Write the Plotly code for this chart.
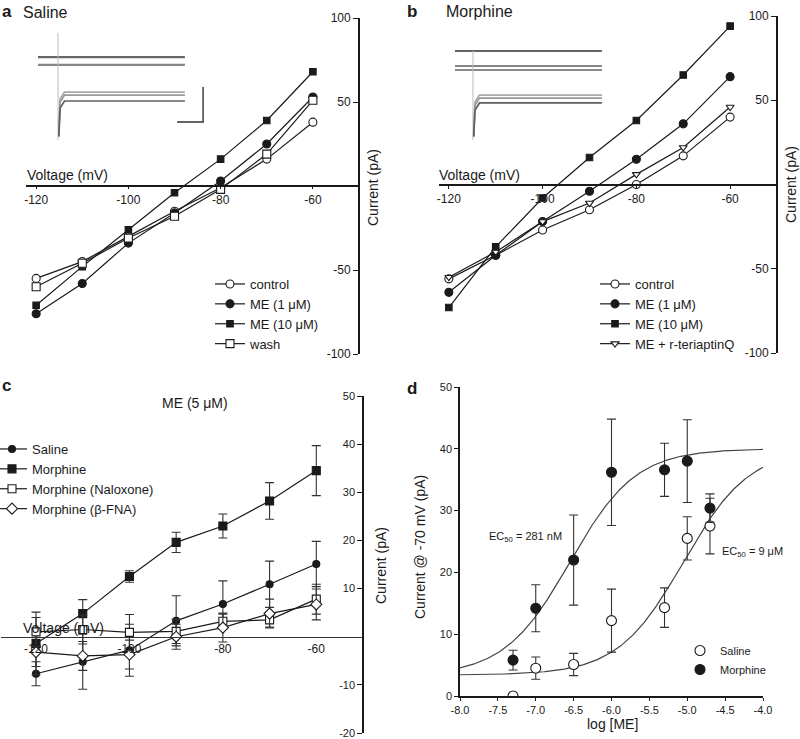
import numpy as np
import plotly.graph_objects as go

W, H = 800, 739
FONT = "Liberation Sans, Arial, sans-serif"
INK = "#1a1a1a"

# ---------------- data ----------------
voltage = [-120, -110, -100, -90, -80, -70, -60]
volt_ticks = [-120, -100, -80, -60]

# panel a (saline)
a_control = [-55, -45, -30, -15, -1, 16, 38]
a_me1 = [-76, -58, -34, -16, 3, 25, 53]
a_me10 = [-71, -48, -26, -4, 16, 39, 68]
a_wash = [-60, -46, -31, -18, -2, 19, 51]

# panel b (morphine)
b_control = [-56, -42, -27, -15, 0, 17, 40]
b_me1 = [-64, -42, -22, -4, 15, 36, 64]
b_me10 = [-73, -37, -8, 16, 38, 65, 94]
b_rter = [-55, -40, -22, -11, 6, 22, 46]

# panel c  ME (5 uM)
c_saline = [-7.7, -5.2, -2.8, 3.3, 6.8, 10.9, 15.1]
c_saline_err = [2.5, 5.7, 5.4, 5.2, 4.8, 4.8, 4.7]
c_morph = [-1.4, 4.8, 12.5, 19.6, 23.0, 28.2, 34.5]
c_morph_err = [6.5, 2.9, 1.2, 2.1, 2.5, 3.8, 5.2]
c_nalox = [1.0, 1.5, 0.9, 1.1, 3.2, 3.5, 7.8]
c_nalox_err = [3.0, 3.0, 3.7, 2.5, 1.5, 1.5, 3.1]
c_bfna = [-3.2, -4.0, -3.7, 0.0, 1.9, 4.8, 6.7]
c_bfna_err = [3.0, 3.0, 3.0, 2.6, 3.0, 3.0, 3.2]

# panel d  concentration-response
d_log_me = [-7.3, -7.0, -6.5, -6.0, -5.3, -5.0, -4.7]
d_morph = [5.8, 14.2, 22.0, 36.2, 36.6, 38.0, 30.4]
d_morph_err = [1.6, 3.8, 7.3, 8.6, 4.3, 6.7, 2.3]
d_saline = [0.0, 4.5, 5.1, 12.2, 14.3, 25.5, 27.5]
d_saline_err = [0.0, 1.8, 1.8, 5.1, 3.2, 3.5, 4.5]
# sigmoid fit parameters (bottom, top, logEC50, hill)
fit_morph = (3.3, 40.0, -6.55, 1.0)
fit_saline = (3.4, 40.0, -5.05, 1.0)
d_x_ticks = [-8.0, -7.5, -7.0, -6.5, -6.0, -5.5, -5.0, -4.5, -4.0]

# inset current traces (ms, pA)
inset_t_end = 565
inset_a_base = [37.1, 32.6]
inset_a_resp = [17.1, 15.4, 12.0]
inset_a_spike_t = 77
inset_b_start = 0
inset_b_base = [40.6, 32.0, 29.7]
inset_b_resp = [15.4, 13.7, 10.9]
inset_b_spike_t = 69
inset_spike = [-10.3, 50.9]
scale_ms, scale_pa = 100, 20


def px(x):
    return x / W


def py(y):
    return 1 - y / H


def lbl(v, fmt="{:g}"):
    return fmt.format(v).replace("\u2212", "-")


fig = go.Figure()


def add_series(x, y, name, symbol, size, filled, xa, ya, legend, err=None, mode="lines+markers", lcolor=INK):
    marker = dict(symbol=symbol, size=size, color=INK if filled else "white",
                  line=dict(color=INK, width=1.1))
    kw = {}
    if err is not None:
        kw["error_y"] = dict(type="data", array=err, color="#333", thickness=1.1, width=4.5)
    fig.add_trace(go.Scatter(x=x, y=y, name=name, mode=mode, marker=marker,
                             line=dict(color=lcolor, width=1.2), xaxis=xa, yaxis=ya,
                             legend=legend, **kw))


# panel a
add_series(voltage, a_control, "control", "circle", 8, False, "x", "y", "legend")
add_series(voltage, a_me1, "ME (1 μM)", "circle", 8, True, "x", "y", "legend")
add_series(voltage, a_me10, "ME (10 μM)", "square", 6.5, True, "x", "y", "legend")
add_series(voltage, a_wash, "wash", "square", 8, False, "x", "y", "legend")

# panel b
add_series(voltage, b_control, "control", "circle", 8, False, "x2", "y2", "legend2")
add_series(voltage, b_me1, "ME (1 μM)", "circle", 8, True, "x2", "y2", "legend2")
add_series(voltage, b_me10, "ME (10 μM)", "square", 6.5, True, "x2", "y2", "legend2")
add_series(voltage, b_rter, "ME + r-teriaptinQ", "triangle-down", 7, False, "x2", "y2", "legend2")

# panel c
add_series(voltage, c_saline, "Saline", "circle", 7, True, "x3", "y3", "legend3", c_saline_err)
add_series(voltage, c_morph, "Morphine", "square", 8, True, "x3", "y3", "legend3", c_morph_err)
add_series(voltage, c_nalox, "Morphine (Naloxone)", "square", 8, False, "x3", "y3", "legend3", c_nalox_err)
add_series(voltage, c_bfna, "Morphine (β-FNA)", "diamond", 8.5, False, "x3", "y3", "legend3", c_bfna_err)

# panel d fit curves
xs = np.linspace(-8, -4, 300)
for (b, t, ec, h) in (fit_morph, fit_saline):
    ys = b + (t - b) / (1 + 10 ** ((ec - xs) * h))
    fig.add_trace(go.Scatter(x=xs, y=ys, mode="lines", line=dict(color="#444", width=1.2),
                             xaxis="x4", yaxis="y4", showlegend=False, hoverinfo="skip"))
add_series(d_log_me, d_saline, "Saline", "circle", 10, False, "x4", "y4", "legend4", d_saline_err, mode="markers")
add_series(d_log_me, d_morph, "Morphine", "circle", 10, True, "x4", "y4", "legend4", d_morph_err, mode="markers")


# insets
def trace_line(x, y, xa, ya, color, width):
    fig.add_trace(go.Scatter(x=x, y=y, mode="lines", line=dict(color=color, width=width),
                             xaxis=xa, yaxis=ya, showlegend=False, hoverinfo="skip"))


base_cols = ["#666666", "#858585", "#8a8a8a"]
resp_cols = ["#a8a8a8", "#9a9a9a", "#606060"]
for i, lv in enumerate(inset_a_base):
    trace_line([0, inset_t_end], [lv, lv], "x5", "y5", base_cols[i], 2.2)
trace_line([inset_a_spike_t, inset_a_spike_t], inset_spike, "x5", "y5", "#bdbdbd", 1)
for i, lv in enumerate(inset_a_resp):
    s = inset_a_spike_t
    trace_line([s + 3, s + 8, s + 25, inset_t_end], [inset_spike[0] + 2, lv - 4, lv, lv], "x5", "y5", resp_cols[i], 1.7)
sb_t = inset_t_end - 30
trace_line([sb_t, sb_t + scale_ms, sb_t + scale_ms], [0, 0, scale_pa], "x5", "y5", "#333", 1.4)

for i, lv in enumerate(inset_b_base):
    trace_line([inset_b_start, inset_t_end], [lv, lv], "x6", "y6", base_cols[i], 2.0)
trace_line([inset_b_spike_t, inset_b_spike_t], [inset_spike[0], inset_b_base[0]], "x6", "y6", "#bdbdbd", 1)
for i, lv in enumerate(inset_b_resp):
    s = inset_b_spike_t
    trace_line([s + 3, s + 8, s + 25, inset_t_end], [inset_spike[0] + 2, lv - 4, lv, lv], "x6", "y6", resp_cols[i], 1.7)

# ---------------- layout ----------------
ax_common = dict(showgrid=False, zeroline=False, showline=True, linecolor=INK,
                 ticks="outside", tickcolor=INK, tickfont=dict(family=FONT, size=12, color=INK))


def volt_axis(dom, rng, ypos):
    d = dict(ax_common)
    d.update(domain=dom, range=rng, anchor="free", position=ypos, tickvals=volt_ticks,
             ticktext=[lbl(v) for v in volt_ticks], linewidth=1.8, ticklen=3)
    return d


def curr_axis(dom, rng, xpos, tv, fs=12, lw=1.8):
    d = dict(ax_common)
    d.update(domain=dom, range=rng, anchor="free", position=xpos, side="left", tickvals=tv,
             ticktext=[lbl(v) for v in tv], linewidth=lw, ticklen=5,
             tickfont=dict(family=FONT, size=fs, color=INK))
    return d


layout = dict(
    width=W, height=H, margin=dict(l=0, r=0, t=0, b=0, autoexpand=False),
    paper_bgcolor="white", plot_bgcolor="rgba(0,0,0,0)",
    font=dict(family=FONT, color=INK),
    xaxis=volt_axis([px(26), px(359)], [-122.2, -50], py(185.5)),
    yaxis=curr_axis([py(354), py(18)], [-100, 100], px(359), [-100, -50, 50, 100]),
    xaxis2=volt_axis([px(439), px(777)], [-122.1, -50], py(185)),
    yaxis2=curr_axis([py(353), py(16)], [-100, 100], px(777), [-100, -50, 50, 100]),
    xaxis3=dict(volt_axis([px(1), px(363)], [-127.5, -50], py(637)), linewidth=1.2,
                linecolor="#333", ticks=""),
    yaxis3=curr_axis([py(733), py(396)], [-20, 50], px(363), [-20, -10, 10, 20, 30, 40, 50], fs=11, lw=1.5),
    xaxis4=dict(ax_common, domain=[px(460), px(763)], range=[-8, -4], anchor="y4",
                tickvals=d_x_ticks, ticktext=[lbl(v, "{:.1f}") for v in d_x_ticks],
                linewidth=1.5, ticklen=3, tickfont=dict(family=FONT, size=11, color=INK)),
    yaxis4=dict(ax_common, domain=[py(696), py(387)], range=[0, 50], anchor="x4",
                tickvals=[0, 10, 20, 30, 40, 50], linewidth=1.5, ticklen=4,
                tickfont=dict(family=FONT, size=11, color=INK)),
    xaxis5=dict(domain=[px(30), px(210)], range=[(30 - 38) / 0.26, (210 - 38) / 0.26], anchor="y5", visible=False),
    yaxis5=dict(domain=[py(150), py(25)], range=[(122 - 150) / 1.75, (122 - 25) / 1.75], anchor="x5", visible=False),
    xaxis6=dict(domain=[px(440), px(620)], range=[(440 - 455) / 0.26, (620 - 455) / 0.26], anchor="y6", visible=False),
    yaxis6=dict(domain=[py(150), py(25)], range=[(122 - 150) / 1.75, (122 - 25) / 1.75], anchor="x6", visible=False),
)

leg_common = dict(xanchor="left", yanchor="top", bgcolor="rgba(0,0,0,0)", tracegroupgap=0,
                  itemwidth=30, font=dict(family=FONT, size=13, color=INK))
layout["legend"] = dict(leg_common, x=px(210), y=py(269))
layout["legend2"] = dict(leg_common, x=px(595), y=py(269))
layout["legend3"] = dict(leg_common, x=px(-8), y=py(434))
layout["legend4"] = dict(leg_common, x=px(680), y=py(636), font=dict(family=FONT, size=11, color=INK))

fig.update_layout(**layout)


def note(x, y, text, size=14, xanchor="left", yanchor="middle", angle=0, bold=False):
    if bold:
        text = "<b>" + text + "</b>"
    fig.add_annotation(x=px(x), y=py(y), xref="paper", yref="paper", text=text, showarrow=False,
                       xanchor=xanchor, yanchor=yanchor, textangle=angle,
                       font=dict(family=FONT, size=size, color=INK))


note(0, 12, "a", 17, bold=True)
note(21, 13, "Saline", 16)
note(405, 11, "b", 17, bold=True)
note(444, 12, "Morphine", 16)
note(0, 385, "c", 17, bold=True)
note(405, 388, "d", 17, bold=True)
note(195, 403, "ME (5 μM)", 14, xanchor="center")

note(25, 185, "Voltage (mV)", 14, yanchor="bottom")
note(437, 185, "Voltage (mV)", 14, yanchor="bottom")
note(21, 638, "Voltage (mV)", 14, yanchor="bottom")

note(373, 188, "Current (pA)", 14, xanchor="center", angle=-90)
note(791, 185, "Current (pA)", 14, xanchor="center", angle=-90)
note(381, 566, "Current (pA)", 14, xanchor="center", angle=-90)
note(420, 547, "Current @ -70 mV (pA)", 14, xanchor="center", angle=-90)
note(612, 724, "log [ME]", 14, xanchor="center")

note(525, 537, "EC<sub>50</sub> = 281 nM", 11, xanchor="center")
note(752, 552, "EC<sub>50</sub> = 9 μM", 11, xanchor="center")

fig.write_html("out.html", config={"displayModeBar": False},
               post_script="document.body.style.margin='0px';")
